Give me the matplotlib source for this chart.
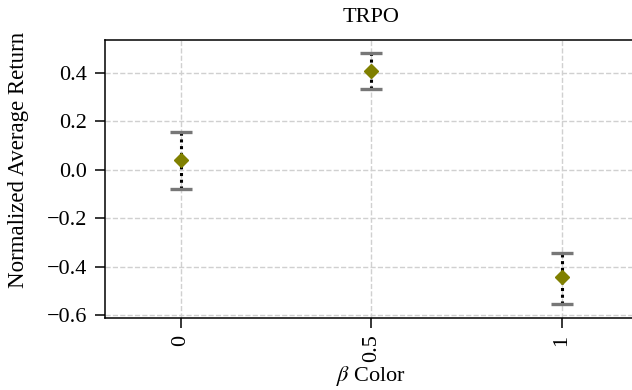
import matplotlib

matplotlib.use("Agg")
import matplotlib.pyplot as plt

plt.rcParams["font.family"] = ["Liberation Serif", "DejaVu Serif"]
plt.rcParams["mathtext.fontset"] = "stix"

# values
categories = ["0", "0.5", "1"]
means = [0.04, 0.41, -0.445]
lower = [0.12, 0.075, 0.11]
upper = [0.115, 0.075, 0.10]

fig = plt.figure(figsize=(6.32, 3.9), dpi=100)
ax = fig.add_axes([0.166, 0.185, 0.843, 0.712])

x = list(range(len(categories)))
eb = ax.errorbar(
    x, means, yerr=[lower, upper], fmt="D", color="#808000", markersize=7.5,
    ecolor="black", elinewidth=2.2, capsize=8, capthick=2.4, zorder=3,
)
for cap in eb[1]:
    cap.set_markeredgecolor("#777777")
    cap.set_color("#777777")
for bar in eb[2]:
    bar.set_linestyle((0, (1, 1.2)))

ax.set_xticks(x)
ax.set_xticklabels(categories, rotation=90)
ax.set_xlim(-0.4, 2.4)
ax.set_ylim(-0.612, 0.536)
ax.set_yticks([-0.6, -0.4, -0.2, 0.0, 0.2, 0.4])
ax.grid(True, linestyle="--", color="#d0d0d0", linewidth=1.0)
ax.set_axisbelow(True)
ax.tick_params(labelsize=16, length=7, width=1.1)
ax.tick_params(axis="y", pad=6)
ax.tick_params(axis="x", pad=5)
for sp in ax.spines.values():
    sp.set_linewidth(1.1)

ax.set_title("TRPO", fontsize=16, pad=13)
ax.set_xlabel(r"$\beta$ Color", fontsize=16, labelpad=1)
ax.set_ylabel("Normalized Average Return", fontsize=16.5)
ax.yaxis.set_label_coords(-0.142, 0.568)

fig.savefig("out.png", dpi=100)
